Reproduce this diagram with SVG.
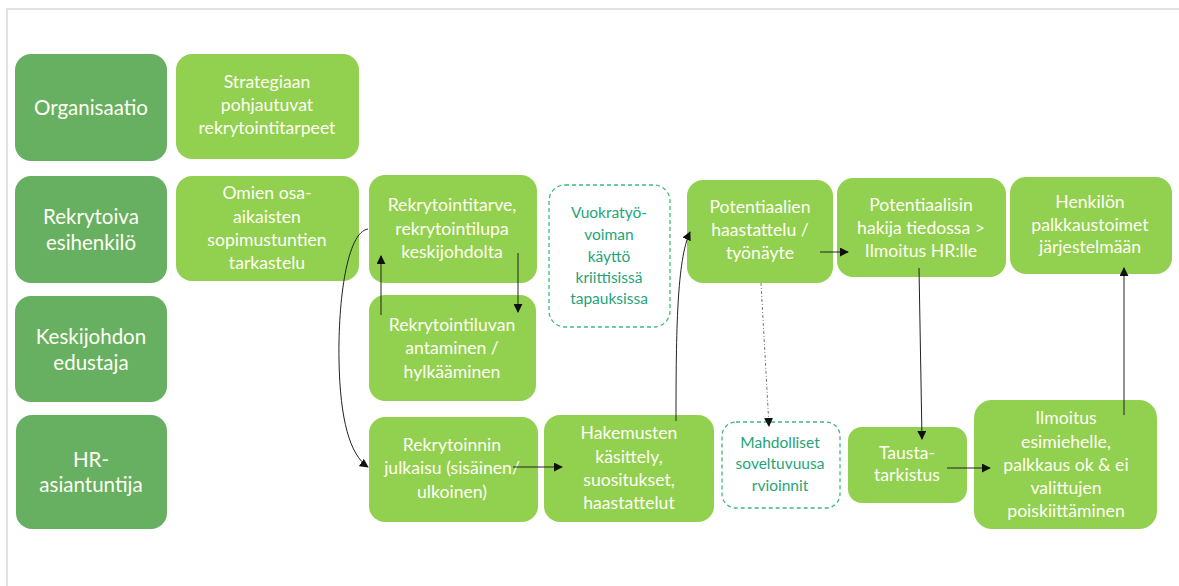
<svg xmlns="http://www.w3.org/2000/svg" width="1179" height="586" viewBox="0 0 1179 586">
<style>
  .hdr { fill: #67B061; }
  .box { fill: #92D050; }
  .dash { fill: #ffffff; stroke: #3DBB7C; stroke-width: 1.3; stroke-dasharray: 4 3; }
  .ht { font-family: Lato, "Liberation Sans", sans-serif; font-size: 20.5px; fill: #FFFFF4; text-anchor: middle; }
  .bt { font-family: Lato, "Liberation Sans", sans-serif; font-size: 17.6px; fill: #FFFFF4; text-anchor: middle; }
  .dt { font-family: Lato, "Liberation Sans", sans-serif; font-size: 15.5px; fill: #1FA57A; text-anchor: middle; }
  .c { fill: none; stroke: #222; stroke-width: 1; }
  .dot { fill: none; stroke: #777; stroke-width: 1; stroke-dasharray: 3 2 1 2; }
</style>
<defs>
  <marker id="ah" viewBox="0 0 10 10" refX="9" refY="5" markerWidth="9" markerHeight="9" markerUnits="userSpaceOnUse" orient="auto">
    <path d="M0,0 L10,5 L0,10 z" fill="#111"/>
  </marker>
</defs>
<rect width="1179" height="586" fill="#ffffff"/>
<path d="M7,586 L7,9 L1179,9" fill="none" stroke="#E2E2E2" stroke-width="2"/>

<g id="lane-organisaatio">
  <rect class="hdr" x="15" y="54" width="152" height="107" rx="16"/>
  <text class="ht" x="91" y="115">Organisaatio</text>
</g>
<g id="lane-rekrytoiva">
  <rect class="hdr" x="15" y="176" width="152" height="107" rx="16"/>
  <text class="ht" x="91" y="224">Rekrytoiva</text>
  <text class="ht" x="91" y="250">esihenkilö</text>
</g>
<g id="lane-keskijohdon">
  <rect class="hdr" x="15" y="296" width="152" height="106" rx="16"/>
  <text class="ht" x="91" y="344">Keskijohdon</text>
  <text class="ht" x="91" y="370">edustaja</text>
</g>
<g id="lane-hr">
  <rect class="hdr" x="16" y="415" width="151" height="114" rx="16"/>
  <text class="ht" x="91" y="467">HR-</text>
  <text class="ht" x="91" y="492">asiantuntija</text>
</g>

<g id="strategiaan">
  <rect class="box" x="176" y="54" width="183" height="105" rx="16"/>
  <text class="bt" x="267" y="88">Strategiaan</text>
  <text class="bt" x="267" y="111">pohjautuvat</text>
  <text class="bt" x="267" y="134">rekrytointitarpeet</text>
</g>
<g id="omien">
  <rect class="box" x="176" y="176" width="183" height="105" rx="16"/>
  <text class="bt" x="267" y="199">Omien osa-</text>
  <text class="bt" x="267" y="223">aikaisten</text>
  <text class="bt" x="267" y="246">sopimustuntien</text>
  <text class="bt" x="267" y="269">tarkastelu</text>
</g>
<g id="rekrytointitarve">
  <rect class="box" x="369" y="175" width="168" height="108" rx="16"/>
  <text class="bt" x="452" y="211">Rekrytointitarve,</text>
  <text class="bt" x="452" y="235">rekrytointilupa</text>
  <text class="bt" x="452" y="258">keskijohdolta</text>
</g>
<g id="rekrytointiluvan">
  <rect class="box" x="369" y="295" width="167" height="106" rx="16"/>
  <text class="bt" x="452" y="331">Rekrytointiluvan</text>
  <text class="bt" x="452" y="354">antaminen /</text>
  <text class="bt" x="452" y="378">hylkääminen</text>
</g>
<g id="julkaisu">
  <rect class="box" x="369" y="417" width="169" height="105" rx="16"/>
  <text class="bt" x="452" y="451">Rekrytoinnin</text>
  <text class="bt" x="452" y="474">julkaisu (sisäinen/</text>
  <text class="bt" x="452" y="498">ulkoinen)</text>
</g>
<g id="hakemusten">
  <rect class="box" x="544" y="415" width="170" height="107" rx="16"/>
  <text class="bt" x="629" y="439">Hakemusten</text>
  <text class="bt" x="629" y="463">käsittely,</text>
  <text class="bt" x="629" y="486">suositukset,</text>
  <text class="bt" x="629" y="509">haastattelut</text>
</g>
<g id="vuokratyo">
  <rect class="dash" x="549" y="185" width="121" height="142" rx="16"/>
  <text class="dt" x="609" y="218">Vuokratyö-</text>
  <text class="dt" x="609" y="240">voiman</text>
  <text class="dt" x="609" y="262">käyttö</text>
  <text class="dt" x="609" y="283">kriittisissä</text>
  <text class="dt" x="609" y="304">tapauksissa</text>
</g>
<g id="potentiaalien">
  <rect class="box" x="687" y="180" width="146" height="103" rx="16"/>
  <text class="bt" x="760" y="213">Potentiaalien</text>
  <text class="bt" x="760" y="236">haastattelu /</text>
  <text class="bt" x="760" y="259">työnäyte</text>
</g>
<g id="potentiaalisin">
  <rect class="box" x="837" y="178" width="169" height="99" rx="16"/>
  <text class="bt" x="921" y="211">Potentiaalisin</text>
  <text class="bt" x="921" y="234">hakija tiedossa &gt;</text>
  <text class="bt" x="921" y="257">Ilmoitus HR:lle</text>
</g>
<g id="henkilon">
  <rect class="box" x="1010" y="177" width="162" height="97" rx="16"/>
  <text class="bt" x="1090" y="208">Henkilön</text>
  <text class="bt" x="1090" y="231">palkkaustoimet</text>
  <text class="bt" x="1090" y="253">järjestelmään</text>
</g>
<g id="mahdolliset">
  <rect class="dash" x="722" y="422" width="118" height="86" rx="14"/>
  <text class="dt" x="780" y="448">Mahdolliset</text>
  <text class="dt" x="780" y="469">soveltuvuusa</text>
  <text class="dt" x="780" y="491">rvioinnit</text>
</g>
<g id="tausta">
  <rect class="box" x="848" y="427" width="119" height="76" rx="14"/>
  <text class="bt" x="907" y="459">Tausta-</text>
  <text class="bt" x="907" y="481">tarkistus</text>
</g>
<g id="ilmoitus">
  <rect class="box" x="974" y="400" width="183" height="129" rx="18"/>
  <text class="bt" x="1066" y="424">Ilmoitus</text>
  <text class="bt" x="1066" y="448">esimiehelle,</text>
  <text class="bt" x="1066" y="471">palkkaus ok &amp; ei</text>
  <text class="bt" x="1066" y="494">valittujen</text>
  <text class="bt" x="1066" y="517">poiskiittäminen</text>
</g>

<g id="connectors">
  <path class="c" d="M368,229 C347,232 338,300 339,360 C340,420 350,455 368,467" marker-end="url(#ah)"/>
  <path class="c" d="M381,315 L381,256" marker-end="url(#ah)"/>
  <path class="c" d="M518,253 L518,312" marker-end="url(#ah)"/>
  <path class="c" d="M513,467 L562,467" marker-end="url(#ah)"/>
  <path class="c" d="M676,421 C676,330 677,260 690,232" marker-end="url(#ah)"/>
  <path class="c" d="M820,252 L848,252" marker-end="url(#ah)"/>
  <path class="dot" d="M761,283 L769,426" marker-end="url(#ah)"/>
  <path class="c" d="M919,268 L922,439" marker-end="url(#ah)"/>
  <path class="c" d="M947,468 L990,468" marker-end="url(#ah)"/>
  <path class="c" d="M1124,415 L1124,268" marker-end="url(#ah)"/>
</g>
</svg>
